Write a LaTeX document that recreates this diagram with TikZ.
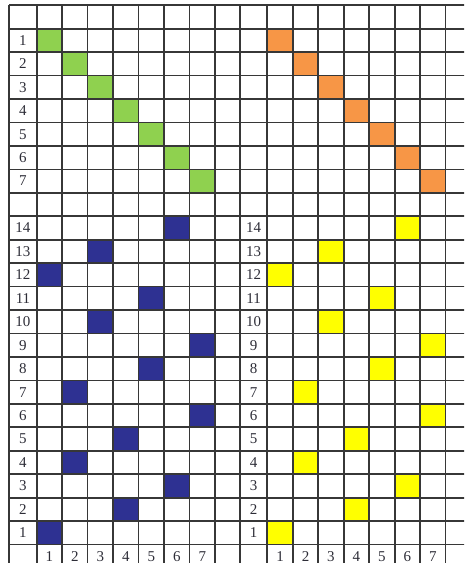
\documentclass[tikz,border=0pt]{standalone}
\usepackage{fontspec}
\setmainfont{Liberation Serif}
\definecolor{gridc}{RGB}{55,55,55}
\definecolor{greenc}{RGB}{143,209,79}
\definecolor{orangec}{RGB}{247,150,70}
\definecolor{navyc}{RGB}{46,49,146}
\definecolor{yellowc}{RGB}{255,255,0}
\definecolor{txtc}{RGB}{45,45,55}
\begin{document}
\begin{tikzpicture}[x=1pt,y=-1pt,
  gridline/.style={draw=gridc,line width=1.7pt},
  lbl/.style={font=\fontsize{15}{15}\selectfont,text=txtc,inner sep=0pt,anchor=center}]
\useasboundingbox (0,0) rectangle (464,563);
\begin{scope}
\clip (0,0) rectangle (464,563);
% geometry
\def\rh{23.45}
\def\top{5.2}
\def\cw{25.47}
\def\xL{36.7}
\def\xR{267.3}
% coloured cells
\foreach \r in {1,...,7}{
  \fill[greenc] ({\xL+(\r-1)*\cw},{\top+\r*\rh}) rectangle ++(\cw,\rh);
  \fill[orangec] ({\xR+(\r-1)*\cw},{\top+\r*\rh}) rectangle ++(\cw,\rh);
}
\foreach \r/\c in {14/6,13/3,12/1,11/5,10/3,9/7,8/5,7/2,6/7,5/4,4/2,3/6,2/4,1/1}{
  \pgfmathsetmacro{\yy}{\top+(9+14-\r)*\rh}
  \fill[navyc] ({\xL+(\c-1)*\cw},\yy) rectangle ++(\cw,\rh);
  \fill[yellowc] ({\xR+(\c-1)*\cw},\yy) rectangle ++(\cw,\rh);
}
% horizontal lines
\foreach \k in {0,...,24}{
  \draw[gridline] (9.3,{\top+\k*\rh}) -- (470,{\top+\k*\rh});
}
% vertical lines
\foreach \xx in {9.3,36.7,62.17,87.64,113.11,138.58,164.05,189.52,215,240,267.3,292.77,318.24,343.71,369.18,394.65,420.12,445.6}{
  \draw[gridline] (\xx,\top) -- (\xx,570);
}
% labels
\foreach \r in {1,...,7}{
  \node[lbl] (lt\r) at (23,{\top+(\r+0.5)*\rh}) {\r};
}
\foreach \r in {1,...,14}{
  \pgfmathsetmacro{\yy}{\top+(9+14-\r+0.5)*\rh}
  \node[lbl] (lb\r) at (23,\yy) {\r};
  \node[lbl] (rb\r) at (253.7,\yy) {\r};
}
\foreach \c in {1,...,7}{
  \node[lbl] (bl\c) at ({\xL+(\c-0.5)*\cw},{\top+23.5*\rh}) {\c};
  \node[lbl] (br\c) at ({\xR+(\c-0.5)*\cw},{\top+23.5*\rh}) {\c};
}
\end{scope}
\end{tikzpicture}
\end{document}
